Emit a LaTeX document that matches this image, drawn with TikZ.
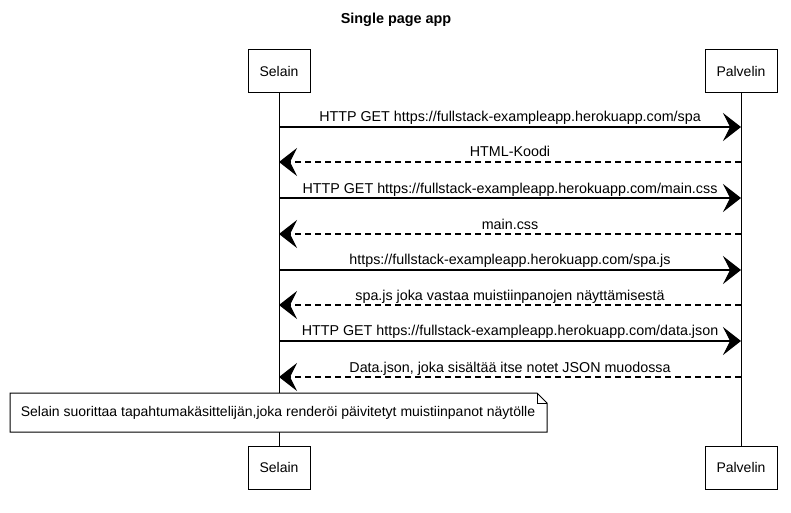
\documentclass[tikz,border=0pt]{standalone}
\usepackage{fontspec}
\setmainfont{Liberation Sans}
\usetikzlibrary{arrows.meta}
\begin{document}
\begin{tikzpicture}[x=1pt,y=-1pt,
  actor/.style={draw,line width=1pt,fill=white,minimum width=#1,minimum height=43pt,inner sep=0pt,font=\fontsize{14}{16}\selectfont},
  actor/.default=62pt,
  life/.style={line width=0.8pt},
  msg/.style={line width=1.1pt,-{Stealth[length=18pt,width=28pt,inset=7pt]}},
  ret/.style={msg,dash pattern=on 6pt off 4pt},
  lbl/.style={font=\fontsize{14.3}{16}\selectfont,inner sep=0pt,anchor=base}]
\useasboundingbox (0,0) rectangle (791,513);
\fill[white] (0,0) rectangle (791,513);
\node[font=\bfseries\fontsize{14.4}{16}\selectfont] (title) at (396,20) {Single page app};
% actors
\node[actor] (s1) at (279,71.5) {Selain};
\node[actor=72pt] (p1) at (741,71.5) {Palvelin};
\node[actor] (s2) at (279,467.5) {Selain};
\node[actor=72pt] (p2) at (741,467.5) {Palvelin};
\draw[life] (s1.south) -- (s2.north);
\draw[life] (p1.south) -- (p2.north);
% message coordinates
\foreach \i/\y in {1/127,2/162,3/198,4/234,5/270,6/305,7/341,8/377}{
  \coordinate (a\i) at (279,\y);
  \coordinate (b\i) at (741,\y);
}
\draw[msg] (a1) -- (b1);
\node[lbl] (l1) at (510,122) {HTTP GET https://fullstack-exampleapp.herokuapp.com/spa};
\draw[ret] (b2) -- (a2);
\node[lbl] (l2) at (510,157) {HTML-Koodi};
\draw[msg] (a3) -- (b3);
\node[lbl] (l3) at (510,193) {HTTP GET https://fullstack-exampleapp.herokuapp.com/main.css};
\draw[ret] (b4) -- (a4);
\node[lbl] (l4) at (510,229) {main.css};
\draw[msg] (a5) -- (b5);
\node[lbl] (l5) at (510,264) {https://fullstack-exampleapp.herokuapp.com/spa.js};
\draw[ret] (b6) -- (a6);
\node[lbl] (l6) at (510,300) {spa.js joka vastaa muistiinpanojen näyttämisestä};
\draw[msg] (a7) -- (b7);
\node[lbl] (l7) at (510,335) {HTTP GET https://fullstack-exampleapp.herokuapp.com/data.json};
\draw[ret] (b8) -- (a8);
\node[lbl] (l8) at (510,372) {Data.json, joka sisältää itse notet JSON muodossa};
% note
\draw[line width=1pt,fill=white] (10,393) -- (537,393) -- (547,403) -- (547,432) -- (10,432) -- cycle;
\draw[line width=0.8pt] (537,393) -- (537,403) -- (547,403);
\node[font=\fontsize{14}{16}\selectfont,inner sep=0pt] (note) at (278,412.5) {Selain suorittaa tapahtumakäsittelijän,joka renderöi päivitetyt muistiinpanot näytölle};
\end{tikzpicture}
\end{document}
